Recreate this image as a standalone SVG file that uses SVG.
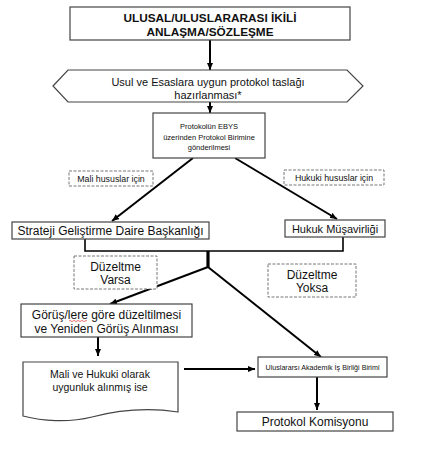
<svg xmlns="http://www.w3.org/2000/svg" width="436" height="459" viewBox="0 0 436 459">
<defs>
<marker id="ah" markerUnits="userSpaceOnUse" markerWidth="7" markerHeight="6" refX="7" refY="3" orient="auto">
<path d="M0,0 L7,3 L0,6 z" fill="#000"/>
</marker>
<style>
.box{fill:#fff;stroke:#444;stroke-width:1.2}
.dash{fill:#fff;stroke:#777;stroke-width:1;stroke-dasharray:3 1.5}
.t{font-family:"Liberation Sans",Arial,sans-serif;fill:#111;text-anchor:middle}
.arr{stroke:#000;stroke-width:2;fill:none;marker-end:url(#ah)}
.ln{stroke:#000;stroke-width:1.6;fill:none}
</style>
</defs>
<rect width="436" height="459" fill="#fff"/>
<g id="connectors">
<line class="arr" x1="210" y1="40" x2="210" y2="70"/>
<line class="arr" x1="210" y1="102" x2="210" y2="113"/>
<line class="arr" x1="193" y1="158" x2="112" y2="221"/>
<line class="arr" x1="235" y1="158" x2="337" y2="219"/>
<polyline class="ln" points="85,239 85,251 343,251 343,237"/>
<line x1="208" y1="251" x2="208" y2="267" stroke="#000" stroke-width="3.2"/>
<line class="arr" x1="208" y1="267" x2="110" y2="304"/>
<line class="arr" x1="208" y1="267" x2="321" y2="357"/>
<line class="arr" x1="98" y1="337" x2="98" y2="356"/>
<line class="arr" x1="184" y1="369" x2="255" y2="369"/>
<line class="arr" x1="317" y1="377" x2="317" y2="410"/>
</g>
<g id="n1">
<rect class="box" x="70" y="7" width="280" height="33"/>
<text class="t" x="210" y="21.5" font-size="11.8" font-weight="bold">ULUSAL/ULUSLARARASI İKİLİ</text>
<text class="t" x="210" y="36" font-size="11.8" font-weight="bold">ANLAŞMA/SÖZLEŞME</text>
</g>
<g id="n2">
<polygon class="box" points="53,86 68,70 347,70 363,86 347,102 68,102"/>
<text class="t" x="208" y="85.5" font-size="11">Usul ve Esaslara uygun protokol taslağı</text>
<text class="t" x="208" y="99" font-size="11">hazırlanması*</text>
</g>
<g id="n3">
<rect class="box" x="153" y="113" width="112" height="45"/>
<text class="t" x="209" y="129" font-size="7.5">Protokolün EBYS</text>
<text class="t" x="209" y="140" font-size="7.5">üzerinden Protokol Birimine</text>
<text class="t" x="209" y="150" font-size="7.5">gönderilmesi</text>
</g>
<g id="l1">
<rect class="dash" x="69" y="171" width="84" height="15"/>
<text class="t" x="111" y="181.5" font-size="8.8">Mali hususlar için</text>
</g>
<g id="l2">
<rect class="dash" x="284" y="170" width="100" height="15"/>
<text class="t" x="334" y="180.5" font-size="8.8">Hukuki hususlar için</text>
</g>
<g id="n4">
<rect class="box" x="12" y="222" width="197" height="17"/>
<text class="t" x="110.5" y="235" font-size="12">Strateji Geliştirme Daire Başkanlığı</text>
</g>
<g id="n5">
<rect class="box" x="285" y="220" width="100" height="17"/>
<text class="t" x="335" y="232.5" font-size="11">Hukuk Müşavirliği</text>
</g>
<g id="l3">
<rect class="dash" x="74" y="256" width="83" height="33"/>
<text class="t" x="115.5" y="271" font-size="12">Düzeltme</text>
<text class="t" x="115.5" y="284" font-size="12">Varsa</text>
</g>
<g id="l4">
<rect class="dash" x="268" y="264" width="88" height="33"/>
<text class="t" x="312" y="279" font-size="12">Düzeltme</text>
<text class="t" x="312" y="292" font-size="12">Yoksa</text>
</g>
<g id="n6">
<rect class="box" x="21" y="304" width="171" height="33"/>
<text class="t" x="106.5" y="319" font-size="12">Görüş/lere göre düzeltilmesi</text>
<text class="t" x="106.5" y="333" font-size="12">ve Yeniden Görüş Alınması</text>
<path d="M69,321 q1,-1 2,0 t2,0 t2,0 t2,0 t2,0 t2,0 t2,0 t2,0 t2,0" stroke="#d33" stroke-width="0.7" fill="none"/>
</g>
<g id="n7">
<path class="box" d="M23,362 H178 V412 C145,407 115,411 92,417 C68,423 42,421 23,416 Z"/>
<text class="t" x="100" y="378" font-size="10.5">Mali ve Hukuki olarak</text>
<text class="t" x="100" y="391" font-size="10.5">uygunluk alınmış ise</text>
</g>
<g id="n8">
<rect class="box" x="258" y="357" width="129" height="20"/>
<text class="t" x="322.5" y="370" font-size="7.5" textLength="114" lengthAdjust="spacingAndGlyphs">Uluslararsı Akademik İş Birliği Birimi</text>
</g>
<g id="n9">
<rect class="box" x="237" y="412" width="156" height="19"/>
<text class="t" x="315" y="426" font-size="12">Protokol Komisyonu</text>
</g>
</svg>
